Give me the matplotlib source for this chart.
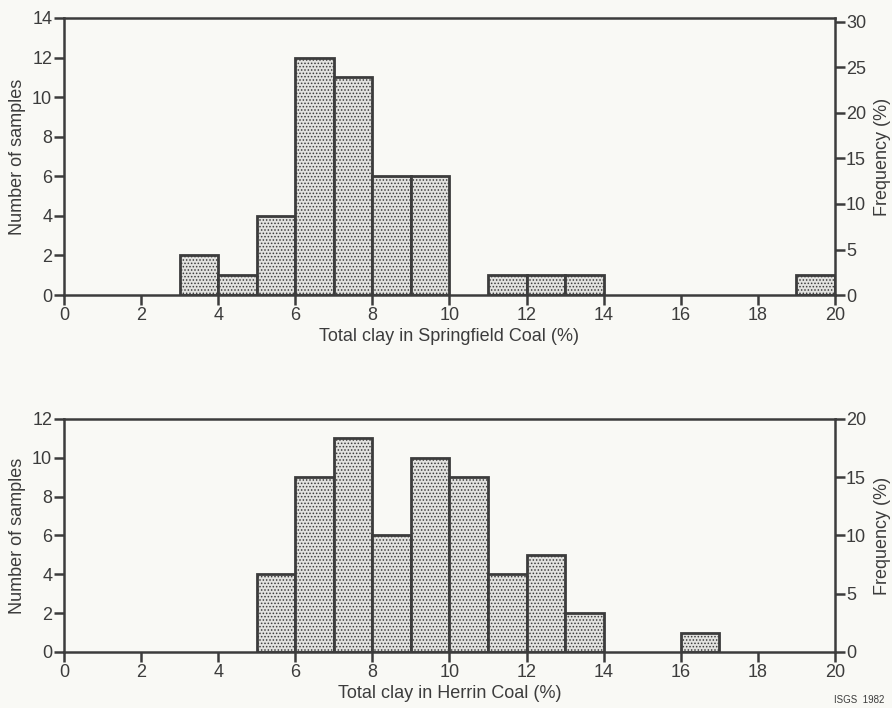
import matplotlib
matplotlib.use("Agg")
import matplotlib.pyplot as plt

plt.rcParams['font.family'] = ['Liberation Sans', 'DejaVu Sans']
plt.rcParams['hatch.color'] = '#a2a2a0'
plt.rcParams['hatch.linewidth'] = 0.7

# Springfield Coal: lower bin edge (% clay) and number of samples
springfield_bins = [3, 4, 5, 6, 7, 8, 9, 11, 12, 13, 19]
springfield_counts = [2, 1, 4, 12, 11, 6, 6, 1, 1, 1, 1]

# Herrin Coal: lower bin edge (% clay) and number of samples
herrin_bins = [5, 6, 7, 8, 9, 10, 11, 12, 13, 16]
herrin_counts = [4, 9, 11, 6, 10, 9, 4, 5, 2, 1]

x_ticks = [0, 2, 4, 6, 8, 10, 12, 14, 16, 18, 20]
springfield_yticks = [0, 2, 4, 6, 8, 10, 12, 14]
springfield_freq_ticks = [0, 5, 10, 15, 20, 25, 30]
herrin_yticks = [0, 2, 4, 6, 8, 10, 12]
herrin_freq_ticks = [0, 5, 10, 15, 20]

INK = '#3c3c3c'
BG = '#f9f9f5'
FILL = '#e2e2df'

fig = plt.figure(figsize=(8.92, 7.08), dpi=100, facecolor=BG)


def panel(rect, bins, counts, ymax, yticks, fticks, xlabel):
    ax = fig.add_axes(rect)
    ax.set_facecolor(BG)
    ax.bar(bins, counts, width=1.0, align='edge', color=FILL,
           edgecolor=INK, linewidth=2.0, hatch='.....', zorder=2)
    ax.set_xlim(0, 20)
    ax.set_ylim(0, ymax)
    ax.set_xticks(x_ticks)
    ax.set_yticks(yticks)
    for s in ax.spines.values():
        s.set_color(INK)
        s.set_linewidth(1.8)
    ax.tick_params(axis='both', direction='out', length=7, width=1.8,
                   color=INK, labelcolor=INK, labelsize=13, pad=1.5)
    ax.set_ylabel('Number of samples', fontsize=13, color=INK, labelpad=4)
    ax.set_xlabel(xlabel, fontsize=13, color=INK, labelpad=3)

    total = sum(counts)
    ax2 = ax.twinx()
    ax2.set_ylim(0, ymax * 100.0 / total)
    ax2.set_yticks(fticks)
    for s in ax2.spines.values():
        s.set_visible(False)
    ax2.tick_params(axis='y', direction='out', length=7, width=1.8,
                    color=INK, labelcolor=INK, labelsize=13, pad=1)
    ax2.set_ylabel('Frequency (%)', fontsize=13, color=INK, labelpad=6)
    return ax


panel([0.0717, 0.5833, 0.8643, 0.3913], springfield_bins, springfield_counts,
      14, springfield_yticks, springfield_freq_ticks,
      'Total clay in Springfield Coal (%)')
panel([0.0717, 0.0791, 0.8643, 0.3291], herrin_bins, herrin_counts,
      12, herrin_yticks, herrin_freq_ticks,
      'Total clay in Herrin Coal (%)')

fig.text(0.992, 0.004, 'ISGS  1982', fontsize=7, color=INK,
         ha='right', va='bottom')

fig.savefig('out.png', dpi=100, facecolor=BG)
